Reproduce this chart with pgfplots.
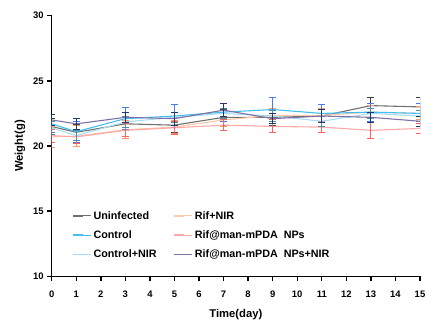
\documentclass[border=0pt]{standalone}
\usepackage{pgfplots}
\pgfplotsset{compat=1.18}
\usepackage{fontspec}
\setmainfont{Liberation Sans}
\usetikzlibrary{calc}
\definecolor{cUn}{HTML}{707070}\definecolor{eUn}{HTML}{404040}
\definecolor{cCo}{HTML}{40BFF5}\definecolor{eCo}{HTML}{4A7BEA}
\definecolor{cCN}{HTML}{A8DCEF}\definecolor{eCN}{HTML}{4E8FA0}
\definecolor{cRN}{HTML}{FFC8A8}\definecolor{eRN}{HTML}{FF9A60}
\definecolor{cRP}{HTML}{FFA8A8}\definecolor{eRP}{HTML}{FF6060}
\definecolor{cRPN}{HTML}{8070A4}\definecolor{eRPN}{HTML}{1F3870}
\begin{document}
\begin{tikzpicture}
\begin{axis}[name=ax,
  scale only axis, width=368.3bp, height=260.6bp,
  xmin=0, xmax=15, ymin=10, ymax=30,
  xtick={0,...,15}, ytick={10,15,20,25,30},
  axis x line=bottom, axis y line=left,
  axis line style={line width=1.6pt,-},
  tick align=outside, major tick length=4.5bp,
  tick style={line width=1.4pt,black},
  /pgf/number format/assume math mode=true,
  tick label style={font=\fontsize{9.5}{11}\selectfont\bfseries},
  xticklabel style={yshift=-7bp},
  label style={font=\fontsize{11.3}{13}\selectfont\bfseries},
  xlabel={Time(day)}, ylabel={Weight(g)},
  xlabel style={yshift=-4bp}, ylabel style={yshift=1bp},
  legend columns=2,
  legend style={draw=none, fill=none, at={(rel axis cs:0.055,0.258)}, anchor=north west,
    font=\fontsize{10.8}{12}\selectfont\bfseries, row sep=6bp, inner sep=0pt,
    /tikz/every even column/.append style={column sep=15bp}},
  legend cell align=left,
  legend image code/.code={\draw[#1,line width=1.7pt] (0bp,0bp) -- (10bp,0bp); \path (0bp,0bp) -- (18bp,0bp);},
  every axis plot/.append style={line width=1.1pt, mark=none},
  error bars/error mark options={rotate=90, mark size=3.6bp, line width=1pt},
]
% Uninfected
\addplot[cUn, forget plot, error bars/.cd, y dir=both, y explicit, error bar style={eUn,line width=1pt}]
 table[x=x,y=y,y error=e]{
x y e
0 21.5 0.6
1 21.05 0.6
3 21.7 0.5
5 21.6 0.6
7 22.2 0.6
9 22.2 0.6
11 22.3 0.5
13 23.1 0.6
15 23.0 0.7
};
% Rif+NIR
\addplot[cRN, forget plot, error bars/.cd, y dir=both, y explicit, error bar style={eRN,line width=1pt}]
 table[x=x,y=y,y error=e]{
x y e
0 20.7 0.8
1 20.75 0.8
3 21.25 0.7
5 21.45 0.5
7 22.0 0.5
9 22.35 0.5
11 22.35 0.5
13 22.6 0.5
15 22.5 0.5
};
% Control
\addplot[cCo, forget plot, error bars/.cd, y dir=both, y explicit, error bar style={eCo,line width=1pt}]
 table[x=x,y=y,y error=e]{
x y e
0 21.7 0.7
1 21.1 0.8
3 22.1 0.85
5 22.3 0.9
7 22.6 0.7
9 22.8 0.9
11 22.5 0.7
13 22.6 0.7
15 22.5 0.8
};
% Rif NPs
\addplot[cRP, forget plot, error bars/.cd, y dir=both, y explicit, error bar style={eRP,line width=1pt}]
 table[x=x,y=y,y error=e]{
x y e
0 20.8 0.5
1 20.7 0.5
3 21.2 0.5
5 21.4 0.5
7 21.6 0.4
9 21.5 0.5
11 21.45 0.4
13 21.2 0.6
15 21.35 0.4
};
% Control+NIR
\addplot[cCN, forget plot, error bars/.cd, y dir=both, y explicit, error bar style={eCN,line width=1pt}]
 table[x=x,y=y,y error=e]{
x y e
0 21.4 0.5
1 20.8 0.4
3 21.85 0.4
5 22.2 0.4
7 22.5 0.4
9 22.3 0.4
11 21.9 0.4
13 22.5 0.4
15 22.3 0.4
};
% Rif NPs+NIR
\addplot[cRPN, forget plot, error bars/.cd, y dir=both, y explicit, error bar style={eRPN,line width=1pt}]
 table[x=x,y=y,y error=e]{
x y e
0 22.0 0.4
1 21.7 0.4
3 22.2 0.4
5 22.1 0.5
7 22.75 0.5
9 22.1 0.4
11 22.3 0.5
13 22.2 0.4
15 21.9 0.4
};
\addlegendimage{cUn}\addlegendentry{Uninfected}
\addlegendimage{cRN}\addlegendentry{Rif+NIR}
\addlegendimage{cCo}\addlegendentry{Control}
\addlegendimage{cRP}\addlegendentry{Rif@man-mPDA\ \ NPs}
\addlegendimage{cCN}\addlegendentry{Control+NIR}
\addlegendimage{cRPN}\addlegendentry{Rif@man-mPDA\ \ NPs+NIR}
\end{axis}
\pgfresetboundingbox
\path[use as bounding box] ($(ax.south west)+(-51.7bp,-45.7bp)$) rectangle ++(433bp,322bp);
\end{tikzpicture}
\end{document}
